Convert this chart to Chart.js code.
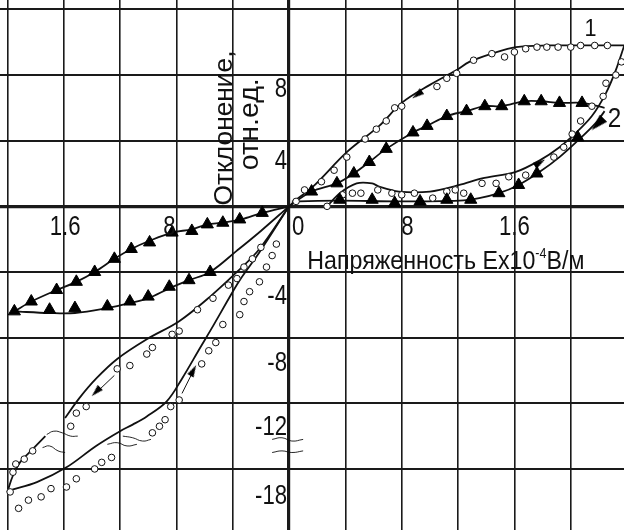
<!DOCTYPE html>
<html lang="ru">
<head>
  <meta charset="UTF-8">
  <title>Отклонение от напряженности</title>
  <script src="https://cdn.jsdelivr.net/npm/chart.js"></script>
  <style>
    body {
      margin: 0;
      background: #fff;
    }
    #grafico {
      display: block;
    }
  </style>
</head>
<body>
  <canvas id="grafico" width="624" height="530"></canvas>

  <script>
    // grid lines, in axis units (4 per cell)
    const xGrid = [-20, -16, -12, -8, -4, 0, 4, 8, 12, 16, 20];
    const yGrid = [12, 8, 4, 0, -4, -8, -12, -16];

    // tick labels as printed on the figure, and the values they sit at
    const xTickText = ['1.6', '8', '0', '8', '1.6'];
    const xTickAt = [-15.9, -8.5, 0.65, 8.4, 16.0];
    const yTickText = ['8', '4', '-4', '-8', '-12', '-18'];
    const yTickAt = [7.1, 2.7, -5.5, -9.6, -13.5, -17.7];

    // curve 1 (circles), right half
    const c1UpLine = [[0, 0], [0.5, 0.4], [1.7, 1.2], [4.1, 3.3], [6.4, 4.9], [8.0, 6.3], [10.0, 7.4], [11.9, 8.3],
      [12.8, 8.8], [14.4, 9.3], [16.1, 9.7], [18.5, 9.8], [20.8, 9.8], [23.8, 9.8]];
    const c1UpPts = [[0.5, 0.3], [1.1, 1.0], [2.3, 1.5], [3.2, 2.2], [4.1, 3.0], [5.4, 4.1], [6.2, 4.7], [6.9, 5.2],
      [7.5, 6.0], [8.0, 6.1], [10.5, 7.3], [11.2, 7.8], [11.9, 8.1], [13.1, 8.9], [14.4, 9.3], [15.3, 9.1], [16.0, 9.4],
      [16.8, 9.6], [17.6, 9.7], [18.3, 9.7], [19.1, 9.7], [20.0, 9.7], [20.7, 9.8], [21.7, 9.8], [22.6, 9.8]];
    const c1LowLine = [[2.7, 0.0], [3.6, 0.8], [4.8, 1.4], [5.9, 1.4], [6.4, 1.2], [7.8, 0.9], [10.0, 0.9], [12.1, 1.3],
      [13.7, 1.7], [16.1, 2.1], [17.8, 2.8], [19.2, 3.6], [20.4, 4.5], [21.5, 5.5], [22.5, 6.9], [23.2, 8.3], [23.8, 9.8]];
    const c1LowPts = [[2.7, 0.0], [3.8, 0.7], [4.5, 0.8], [5.1, 0.8], [6.3, 1.0], [7.3, 0.8], [8.0, 0.7], [8.9, 0.8],
      [10.2, 0.5], [11.2, 0.9], [11.8, 1.0], [12.4, 0.8], [13.7, 1.4], [14.7, 1.4], [15.6, 1.8], [16.8, 1.9],
      [18.8, 3.0], [19.5, 3.6], [20.1, 4.4], [20.7, 5.2], [21.5, 6.1], [22.3, 6.7], [22.5, 7.5], [23.2, 8.0], [23.6, 8.8]];

    // curve 2 (triangles), right half
    const c2UpLine = [[0, 0], [1.6, 0.9], [3.4, 1.4], [4.6, 2.0], [5.7, 2.7], [6.9, 3.5], [8.8, 4.5], [9.8, 4.9],
      [11.2, 5.5], [12.6, 5.8], [13.9, 6.1], [15.1, 6.1], [16.7, 6.4], [17.9, 6.4], [19.2, 6.3], [20.8, 6.3], [22.4, 6.0]];
    const c2UpPts = [[1.6, 0.9], [3.4, 1.4], [4.6, 2.0], [5.7, 2.7], [6.9, 3.5], [8.8, 4.5], [9.8, 4.9], [11.2, 5.5],
      [12.6, 5.8], [13.9, 6.1], [15.1, 6.1], [16.7, 6.4], [17.9, 6.4], [19.2, 6.3], [20.8, 6.3]];
    const c2LowLine = [[0.2, 0.3], [3.6, 0.35], [7.8, 0.3], [12.1, 0.35], [13.5, 0.5], [14.9, 0.8], [16.3, 1.3],
      [17.8, 2.1], [19.2, 3.0], [20.5, 4.0], [21.8, 5.1], [22.4, 5.8]];
    const c2LowPts = [[3.6, 0.4], [5.9, 0.4], [7.5, 0.2], [9.3, 0.3], [11.2, 0.4], [12.9, 0.4], [14.9, 0.8], [16.3, 1.3],
      [17.6, 2.0], [20.5, 4.2]];

    // triangles, left half
    const t3UpLine = [[0, 0], [-1.9, -0.4], [-3.4, -0.8], [-4.7, -1.0], [-5.8, -1.1], [-6.9, -1.4], [-8.3, -1.6],
      [-9.9, -2.1], [-11.2, -2.6], [-12.4, -3.2], [-13.8, -4.0], [-15.1, -4.6], [-16.5, -5.1], [-18.3, -5.8], [-19.5, -6.4]];
    const t3UpPts = [[-1.9, -0.4], [-3.5, -0.8], [-4.7, -1.0], [-5.8, -1.1], [-6.9, -1.5], [-8.3, -1.6], [-9.9, -2.2],
      [-11.2, -2.6], [-12.4, -3.2], [-13.8, -4.0], [-15.1, -4.6], [-16.5, -5.1], [-18.3, -5.8], [-19.5, -6.4]];
    const t3LowLine = [[-19.5, -6.4], [-17.0, -6.5], [-15.2, -6.5], [-12.9, -6.2], [-11.3, -5.9], [-10.0, -5.6],
      [-8.5, -5.0], [-7.1, -4.5], [-5.6, -4.0], [-3.7, -2.7], [-2.0, -1.5], [0, 0]];
    const t3LowPts = [[-17.0, -6.3], [-15.2, -6.2], [-12.9, -6.1], [-11.3, -5.8], [-10.0, -5.5], [-8.5, -4.9],
      [-7.1, -4.5], [-5.6, -4.0]];

    // circles loop, left half (upper branch is broken)
    const aLine1 = [[0, 0], [-2.1, -2.6], [-3.7, -4.0], [-5.6, -5.5], [-7.8, -7.0], [-10.1, -8.1], [-12.2, -9.3],
      [-13.7, -10.5], [-14.9, -11.7], [-15.9, -12.9]];
    const aLine2 = [[-17.3, -14.0], [-18.2, -14.8], [-19.1, -15.6], [-19.6, -16.4], [-20.0, -17.4]];
    const aPts = [[-0.9, -2.3], [-2.0, -2.5], [-2.6, -3.2], [-3.2, -3.7], [-3.7, -4.4], [-4.3, -4.8], [-5.4, -5.6],
      [-6.5, -6.3], [-7.8, -7.6], [-8.3, -7.8], [-9.7, -8.6], [-10.1, -9.0], [-11.3, -9.7], [-12.2, -9.9],
      [-14.4, -12.2], [-15.1, -12.6], [-15.5, -13.4], [-18.2, -14.9], [-18.8, -15.4], [-19.4, -15.7], [-19.6, -16.2],
      [-19.8, -17.4]];
    const bLine = [[0, 0], [-2.1, -2.8], [-3.5, -4.5], [-4.4, -5.8], [-5.4, -7.3], [-6.3, -8.6], [-7.6, -10.5],
      [-8.7, -11.9], [-10.1, -12.8], [-11.1, -13.3], [-12.0, -13.7], [-13.7, -14.6], [-15.8, -15.9], [-17.9, -16.8],
      [-19.8, -17.3]];
    const bPts = [[-1.2, -3.0], [-1.6, -3.7], [-2.1, -4.6], [-2.8, -5.2], [-3.2, -5.8], [-3.5, -6.6], [-4.7, -7.2],
      [-5.2, -8.3], [-5.7, -8.8], [-6.2, -9.6], [-7.8, -11.8], [-8.4, -12.2], [-8.8, -13.0], [-9.2, -13.4],
      [-9.7, -13.8], [-12.6, -15.3], [-13.3, -15.6], [-13.8, -16.0], [-15.1, -16.6], [-15.8, -17.1], [-16.9, -17.2],
      [-17.6, -17.7], [-18.5, -17.9], [-19.2, -18.4]];

    // thin arrows and arrow heads (rotation in degrees, 0 = pointing up)
    const arrowShaftA = [[-12.4, -10.3], [-13.5, -11.2]];
    const arrowShaftB = [[-7.6, -11.4], [-6.9, -10.2]];
    const arrowHeads = [[-13.7, -11.3], [-6.8, -10.0], [17.8, 2.65], [9.1, 6.8]];
    const arrowTurn = [225, 28, 58, 233];
    const bigArrow = [[21.9, 5.0]];
    const bigArrowTurn = [225];

    // break marks
    const breaks = [
      [[-17.2, -13.9], [-16.7, -13.7], [-16.1, -13.8], [-15.5, -14.0], [-15.0, -14.0]],
      [[-17.5, -14.7], [-17.0, -14.6], [-16.4, -14.9], [-15.9, -15.0]],
      [[-11.8, -14.0], [-11.1, -14.1], [-10.4, -14.3], [-9.8, -14.2]],
      [[-12.9, -14.5], [-12.2, -14.4], [-11.5, -14.6], [-10.8, -14.5]],
      [[-1.2, -14.2], [-0.5, -14.1], [0.2, -14.3], [1.0, -14.2]],
      [[-1.2, -15.0], [-0.5, -14.9], [0.2, -15.0], [1.0, -14.9]]
    ];

    const pts = a => a.map(([x, y]) => ({ x, y }));

    // narrow arrow head drawn once, Chart.js rotates it per point
    function ponta(w, h) {
      const c = document.createElement('canvas');
      c.width = w;
      c.height = h;
      const g = c.getContext('2d');
      g.fillStyle = '#000';
      g.beginPath();
      g.moveTo(w / 2, 0);
      g.lineTo(w, h);
      g.lineTo(0, h);
      g.closePath();
      g.fill();
      return c;
    }

    function linha(data, w, t) {
      return { data: pts(data), showLine: true, pointRadius: 0, borderColor: '#111', borderWidth: w, tension: t, fill: false };
    }
    function circulos(data) {
      return { data: pts(data), showLine: false, pointStyle: 'circle', pointRadius: 3.3,
        pointBackgroundColor: '#fff', pointBorderColor: '#111', pointBorderWidth: 1 };
    }
    function triangulos(data, r) {
      return { data: pts(data), showLine: false, pointStyle: 'triangle', pointRadius: r,
        pointBackgroundColor: '#000', pointBorderColor: '#000', pointBorderWidth: 1 };
    }
    function setas(data, img, giro) {
      return { data: pts(data), showLine: false, pointStyle: img, pointRadius: 6, pointRotation: giro };
    }

    const datasets = [
      triangulos(c2UpPts, 7), triangulos(c2LowPts, 7), triangulos(t3UpPts, 7), triangulos(t3LowPts, 7),
      circulos(c1UpPts), circulos(c1LowPts), circulos(aPts), circulos(bPts),
      setas(arrowHeads, ponta(7, 12), arrowTurn),
      setas(bigArrow, ponta(10, 17), bigArrowTurn),
      linha(c1UpLine, 1.8, 0.35), linha(c1LowLine, 1.8, 0.3),
      linha(c2UpLine, 1.8, 0.35), linha(c2LowLine, 1.8, 0.35),
      linha(t3UpLine, 1.8, 0.35), linha(t3LowLine, 1.8, 0.35),
      linha(aLine1, 1.8, 0.35), linha(aLine2, 1.8, 0.35), linha(bLine, 1.8, 0.35),
      linha(arrowShaftA, 1, 0), linha(arrowShaftB, 1, 0)
    ];
    breaks.forEach(b => datasets.push(linha(b, 0.9, 0.5)));

    const FONTE = "'Liberation Sans', Arial, sans-serif";

    // texts of the figure, placed through the scales
    const textos = {
      id: 'textos',
      afterDatasetsDraw(chart) {
        const ctx = chart.ctx;
        const x = chart.scales.x, y = chart.scales.y;
        ctx.save();
        ctx.fillStyle = '#111';

        function estreito(txt, px, py, size, align, sx) {
          ctx.save();
          ctx.font = size + 'px ' + FONTE;
          ctx.textAlign = align;
          ctx.textBaseline = 'middle';
          ctx.translate(px, py);
          ctx.scale(sx, 1);
          ctx.fillText(txt, 0, 0);
          ctx.restore();
        }

        const x0 = x.getPixelForValue(0);
        yTickText.forEach((t, i) => estreito(t, x0 - 2, y.getPixelForValue(yTickAt[i]), 27, 'right', 0.82));
        xTickText.forEach((t, i) => estreito(t, x.getPixelForValue(xTickAt[i]), y.getPixelForValue(-1.32), 27, 'center', 0.82));

        estreito('1', x.getPixelForValue(21.4), y.getPixelForValue(10.8), 24, 'center', 0.9);
        estreito('2', x.getPixelForValue(23.1), y.getPixelForValue(5.3), 27, 'center', 0.9);

        // horizontal title with superscript
        const p1 = 'Напряженность Ех10', p2 = '-4', p3 = 'В/м';
        ctx.font = '26px ' + FONTE;
        const w1 = ctx.measureText(p1).width, w3 = ctx.measureText(p3).width;
        ctx.font = '14px ' + FONTE;
        const w2 = ctx.measureText(p2).width;
        const sx = 277 / (w1 + w2 + w3);
        ctx.save();
        ctx.translate(x.getPixelForValue(1.3), y.getPixelForValue(-3.82));
        ctx.scale(sx, 1);
        ctx.textBaseline = 'alphabetic';
        ctx.textAlign = 'left';
        ctx.font = '26px ' + FONTE;
        ctx.fillText(p1, 0, 0);
        ctx.font = '14px ' + FONTE;
        ctx.fillText(p2, w1, -11);
        ctx.font = '26px ' + FONTE;
        ctx.fillText(p3, w1 + w2, 0);
        ctx.restore();

        // vertical title, two lines
        function vertical(txt, vx, vy, size, len) {
          ctx.save();
          ctx.font = size + 'px ' + FONTE;
          ctx.textAlign = 'left';
          ctx.textBaseline = 'alphabetic';
          ctx.translate(x.getPixelForValue(vx), y.getPixelForValue(vy));
          ctx.rotate(-Math.PI / 2);
          ctx.scale(len / ctx.measureText(txt).width, 1);
          ctx.fillText(txt, 0, 0);
          ctx.restore();
        }
        vertical('Отклонение,', -4.07, 0.05, 26, 155);
        vertical('отн.ед.', -2.2, 2.2, 27, 92);

        ctx.restore();
      }
    };

    function grade(valores) {
      return function (scale) {
        scale.ticks = valores.map(v => ({ value: v }));
      };
    }

    new Chart(document.getElementById('grafico'), {
      type: 'scatter',
      data: { datasets: datasets },
      options: {
        responsive: false,
        animation: false,
        events: [],
        layout: { padding: 0, autoPadding: false },
        plugins: { legend: { display: false }, tooltip: { enabled: false } },
        scales: {
          x: {
            type: 'linear',
            min: -20.52,
            max: 23.78,
            afterBuildTicks: grade(xGrid),
            ticks: { display: false },
            border: { display: false },
            grid: {
              drawTicks: false,
              color: '#1a1a1a',
              lineWidth: c => (c.tick && c.tick.value === 0 ? 3.2 : 1.6)
            }
          },
          y: {
            type: 'linear',
            min: -19.72,
            max: 12.57,
            afterBuildTicks: grade(yGrid),
            ticks: { display: false },
            border: { display: false },
            grid: {
              drawTicks: false,
              color: '#1a1a1a',
              lineWidth: c => (c.tick && c.tick.value === 0 ? 3.2 : 2)
            }
          }
        }
      },
      plugins: [textos]
    });
  </script>
</body>
</html>
